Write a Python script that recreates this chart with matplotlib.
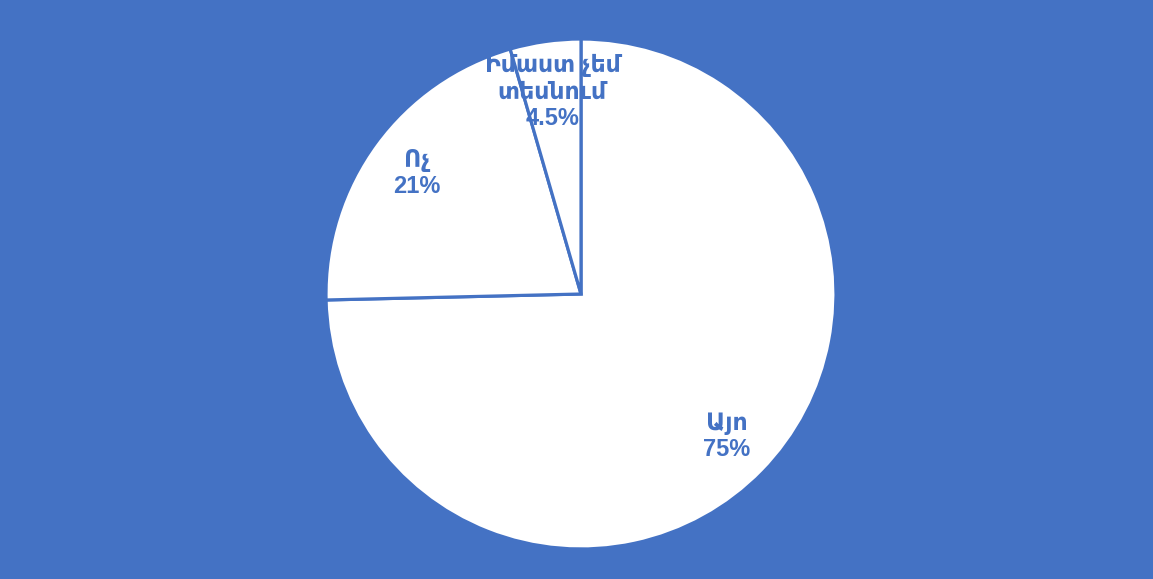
import matplotlib
matplotlib.use("Agg")
import matplotlib.pyplot as plt

categories = ["Այո", "Ոչ", "Իմաստ չեմ\nտեսնում"]
values = [75, 21, 4.5]
pct_labels = ["75%", "21%", "4.5%"]

BLUE = "#4472C4"
W, H = 1153, 579
cx, cy, r = 581, 285, 255

fig = plt.figure(figsize=(W / 100, H / 100), dpi=100)
fig.patch.set_facecolor(BLUE)
ax = fig.add_axes([(cx - r) / W, (cy - r) / H, 2 * r / W, 2 * r / H])
ax.set_facecolor(BLUE)

labels = [f"{c}\n{p}" for c, p in zip(categories, pct_labels)]
wedges, texts = ax.pie(
    values, labels=labels, startangle=90, counterclock=False,
    colors=["white"] * len(values), labeldistance=0.8,
    wedgeprops=dict(edgecolor=BLUE, linewidth=2.3),
    textprops=dict(color=BLUE, fontsize=17, fontweight="bold",
                   family=["Liberation Sans", "DejaVu Sans"], linespacing=1.2),
)
for t in texts:
    t.set_ha("center")
    t.set_va("center")
ax.set_aspect("equal")
ax.set_xlim(-1, 1)
ax.set_ylim(-1, 1)
ax.axis("off")

fig.savefig("out.png", dpi=100, facecolor=BLUE)
